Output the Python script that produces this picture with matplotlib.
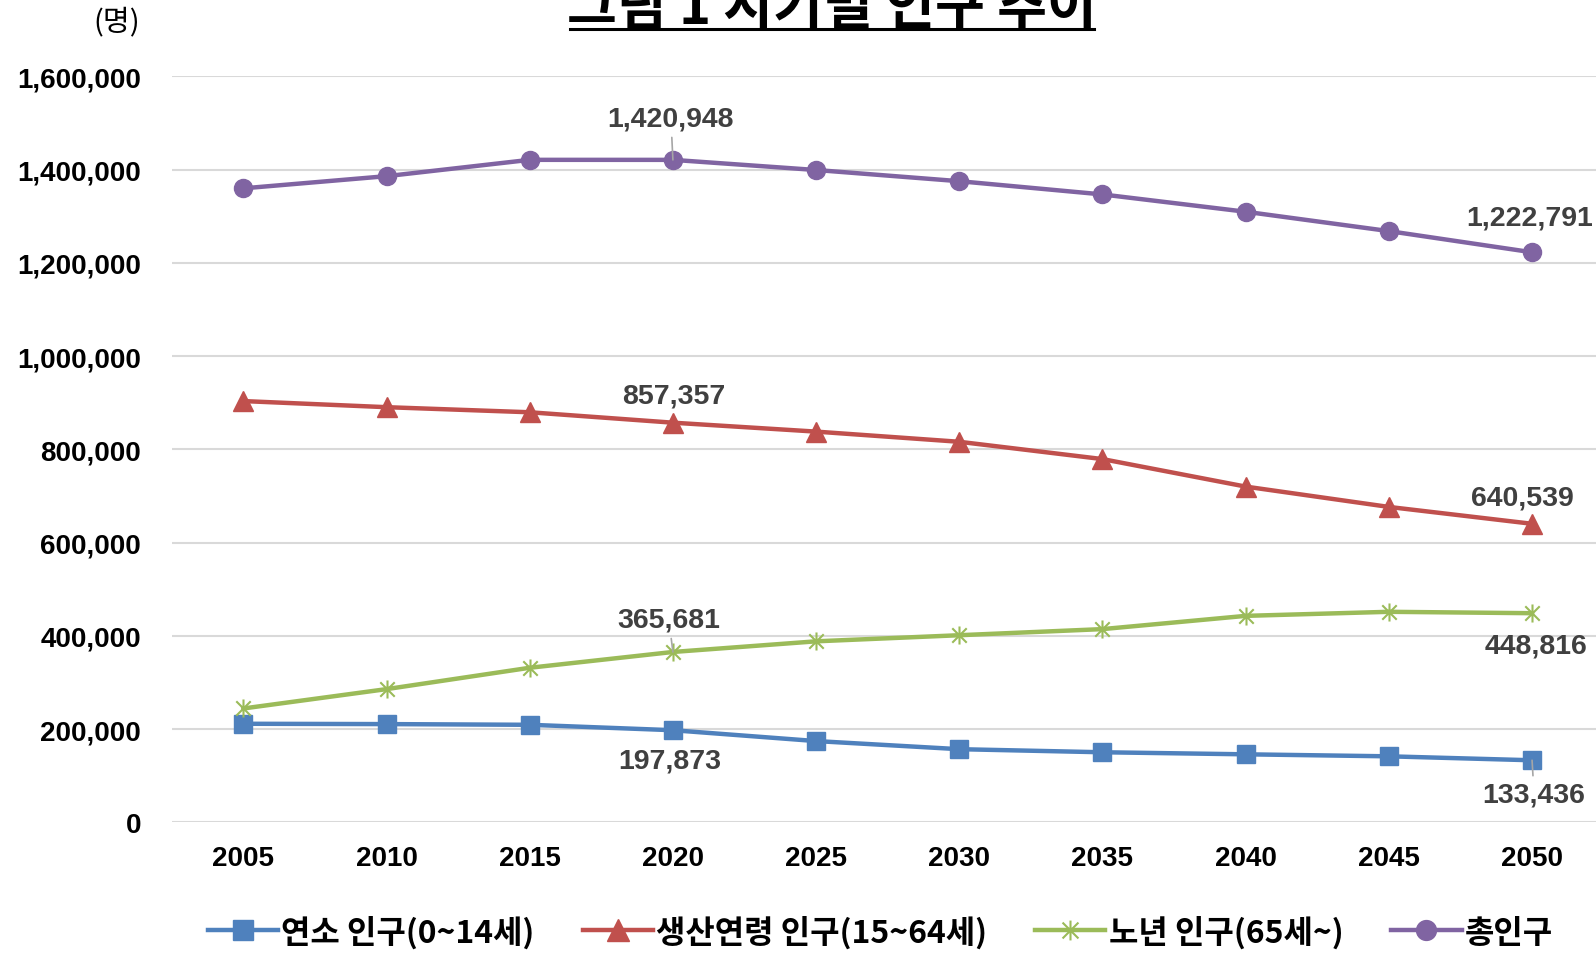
import matplotlib
matplotlib.use("Agg")
import matplotlib.pyplot as plt
from matplotlib.path import Path
from matplotlib.lines import Line2D
from matplotlib.ticker import FuncFormatter

plt.rcParams['font.family'] = ['Liberation Sans', 'Noto Sans CJK KR', 'DejaVu Sans']

# data
years = ['2005', '2010', '2015', '2020', '2025', '2030', '2035', '2040', '2045', '2050']
young = [211700, 211000, 209500, 197873, 174600, 157200, 150600, 146200, 141900, 133436]
working = [903700, 890600, 879700, 857357, 838200, 816400, 779300, 720300, 676700, 640539]
elderly = [244500, 286000, 331800, 365681, 388500, 401600, 414700, 443100, 451800, 448816]
total = [1359900, 1386000, 1421000, 1420948, 1399200, 1375200, 1346800, 1309700, 1268200, 1222791]
series_names = ['연소 인구(0~14세)', '생산연령 인구(15~64세)', '노년 인구(65세~)', '총인구']
yticks = [0, 200000, 400000, 600000, 800000, 1000000, 1200000, 1400000, 1600000]

blue, red, green, purple = '#4F81BD', '#C0504D', '#9BBB59', '#8064A2'
label_color = '#404040'
kr = ['Noto Sans CJK KR', 'DejaVu Sans']

# asterisk-like marker: vertical bar + X
star = Path([(0, -1), (0, 1), (-0.8, -0.8), (0.8, 0.8), (-0.8, 0.8), (0.8, -0.8)],
            [Path.MOVETO, Path.LINETO, Path.MOVETO, Path.LINETO, Path.MOVETO, Path.LINETO])

fig = plt.figure(figsize=(15.96, 9.54), dpi=100)
ax = fig.add_axes([0.1076, 0.1368, 0.8972, 0.7821])

x = list(range(len(years)))
ax.plot(x, young, color=blue, lw=3.2, marker='s', ms=13, label=series_names[0], zorder=3)
ax.plot(x, working, color=red, lw=3.2, marker='^', ms=14, label=series_names[1], zorder=3)
ax.plot(x, elderly, color=green, lw=3.2, marker=star, ms=13, mew=1.5, mec=green,
        label=series_names[2], zorder=3)
ax.plot(x, total, color=purple, lw=3.2, marker='o', ms=13, label=series_names[3], zorder=3)

ax.set_xlim(-0.5, 9.5)
ax.set_ylim(0, 1600000)
ax.set_xticks(x)
ax.set_xticklabels(years)
ax.set_yticks(yticks)
ax.yaxis.set_major_formatter(FuncFormatter(lambda v, p: f'{int(v):,}'))
ax.tick_params(axis='both', length=0, labelsize=20)
ax.tick_params(axis='y', pad=22)
ax.tick_params(axis='x', pad=16)
for lab in ax.get_xticklabels() + ax.get_yticklabels():
    lab.set_fontweight('bold')
for s in ax.spines.values():
    s.set_visible(False)
ax.grid(axis='y', color='#D9D9D9', lw=1.5)
ax.set_axisbelow(True)

# data labels (index, value, dx, dy in pixels, leader line)
labels = [
    (3, total[3], -2, 41, True),
    (3, working[3], 1, 27, False),
    (3, elderly[3], -4, 32, True),
    (3, young[3], -3, -30, False),
    (9, total[9], -2, 35, False),
    (9, working[9], -10, 26, False),
    (9, elderly[9], 4, -32, False),
    (9, young[9], 2, -34, True),
]
for i, v, dx, dy, lead in labels:
    kw = {}
    if lead:
        kw['arrowprops'] = dict(arrowstyle='-', color='#A6A6A6', lw=1.2, shrinkA=2, shrinkB=0)
    ax.annotate(f'{v:,}', (i, v), xytext=(dx, dy), textcoords='offset pixels',
                ha='center', va='center', fontsize=20.5, fontweight='bold',
                color=label_color, annotation_clip=False, zorder=4, **kw)

# title (clipped at top like the reference)
fig.text(0.5213, 0.975, '그림 1 시기별 인구 추이', ha='center', va='baseline',
         fontsize=39, fontweight='bold', family=kr)
fig.add_artist(Line2D([570 / 1596, 1094 / 1596], [0.969, 0.969], color='black', lw=2.2))

fig.text(117 / 1596, 1 - 22 / 954, '(명)', ha='center', va='center', fontsize=21, family=kr)

leg = fig.legend(loc='center', bbox_to_anchor=(0.5516, 0.022), ncol=4, frameon=False,
                 prop={'family': kr, 'weight': 'bold', 'size': 23},
                 handlelength=2.2, handletextpad=0.1, columnspacing=1.5, markerscale=1.1)

fig.savefig('out.png', dpi=100)
